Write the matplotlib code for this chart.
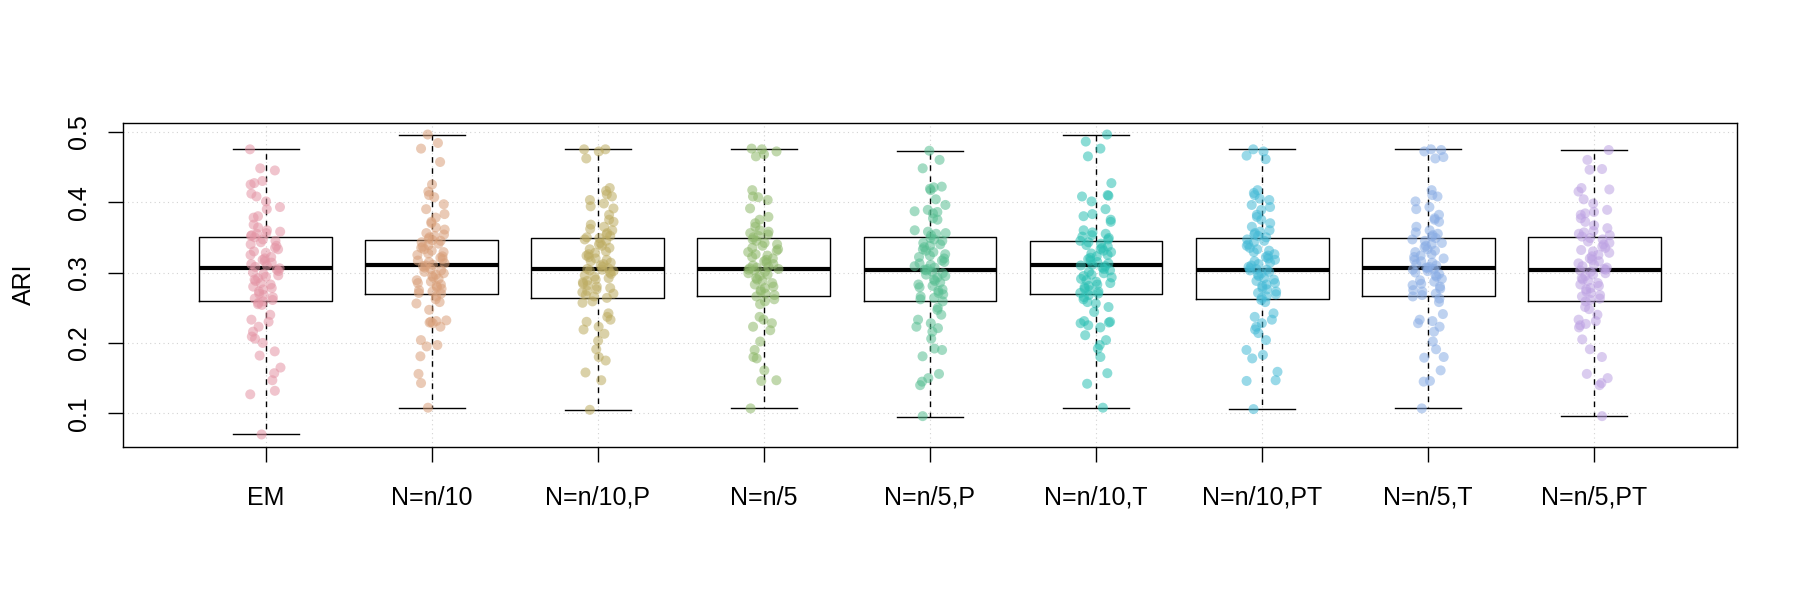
import numpy as np
import matplotlib
matplotlib.use("Agg")
import matplotlib.pyplot as plt

plt.rcParams['font.family'] = ['Liberation Sans', 'DejaVu Sans']

# group labels
labels = ['EM', 'N=n/10', 'N=n/10,P', 'N=n/5', 'N=n/5,P',
          'N=n/10,T', 'N=n/10,PT', 'N=n/5,T', 'N=n/5,PT']

# point colours (drawn with alpha)
colors = ['#E495A5', '#D9A07A', '#BDAC62', '#8FB86B', '#58BE92',
          '#2CC0B4', '#45BAD6', '#8AADE5', '#BDA2E3']

# box statistics
whislo = [0.070, 0.108, 0.105, 0.107, 0.095, 0.108, 0.106, 0.107, 0.096]
q1 = [0.260, 0.270, 0.264, 0.266, 0.260, 0.270, 0.263, 0.266, 0.260]
med = [0.307, 0.310, 0.305, 0.305, 0.304, 0.310, 0.304, 0.306, 0.304]
q3 = [0.351, 0.346, 0.349, 0.349, 0.351, 0.345, 0.349, 0.349, 0.351]
whishi = [0.475, 0.496, 0.475, 0.475, 0.473, 0.496, 0.475, 0.475, 0.474]

# ARI values per method
ari_em = [0.475, 0.448, 0.445, 0.430, 0.427, 0.425, 0.412, 0.408, 0.401, 0.393, 0.390,
          0.380, 0.378, 0.368, 0.364, 0.360, 0.358, 0.356, 0.355, 0.353, 0.352, 0.350,
          0.347, 0.345, 0.343, 0.340, 0.338, 0.335, 0.333, 0.330, 0.328, 0.325, 0.322,
          0.320, 0.318, 0.316, 0.314, 0.312, 0.310, 0.308, 0.306, 0.304, 0.302, 0.300,
          0.298, 0.296, 0.294, 0.292, 0.290, 0.288, 0.285, 0.283, 0.280, 0.278, 0.276,
          0.273, 0.270, 0.268, 0.265, 0.263, 0.261, 0.259, 0.257, 0.255,
          0.254, 0.240, 0.233, 0.230, 0.223, 0.216, 0.209, 0.206, 0.200, 0.188, 0.182,
          0.165, 0.157, 0.147, 0.132, 0.127, 0.070]
ari_n10 = [0.496, 0.484, 0.476, 0.457, 0.425, 0.415, 0.410, 0.407, 0.397, 0.390, 0.383,
           0.378, 0.372, 0.370, 0.364, 0.361, 0.356, 0.354, 0.352, 0.350, 0.348, 0.346,
           0.345, 0.343, 0.341, 0.339, 0.337, 0.335, 0.333, 0.331, 0.329, 0.327, 0.325,
           0.323, 0.321, 0.319, 0.317, 0.315, 0.313, 0.311, 0.310, 0.309, 0.307, 0.305,
           0.303, 0.301, 0.299, 0.297, 0.295, 0.293, 0.291, 0.289, 0.287, 0.285, 0.283,
           0.281, 0.279, 0.277, 0.275, 0.273, 0.271, 0.270,
           0.266, 0.262, 0.258, 0.256, 0.247, 0.232, 0.231, 0.230, 0.229, 0.228, 0.223,
           0.204, 0.197, 0.195, 0.181, 0.156, 0.143, 0.108]
ari_n10p = [0.475, 0.475, 0.472, 0.462, 0.420, 0.416, 0.411, 0.408, 0.403, 0.398, 0.394,
            0.391, 0.382, 0.375, 0.372, 0.368, 0.365, 0.362, 0.360, 0.356, 0.354, 0.352,
            0.350, 0.349, 0.347,
            0.345, 0.342, 0.340, 0.338, 0.335, 0.333, 0.330, 0.328, 0.326, 0.324, 0.322,
            0.320, 0.318, 0.316, 0.314, 0.312, 0.310, 0.308, 0.306, 0.305, 0.304, 0.303,
            0.302, 0.300, 0.298, 0.296, 0.294, 0.292, 0.290, 0.288, 0.286, 0.284, 0.282,
            0.280, 0.278, 0.276, 0.274, 0.272, 0.270, 0.268, 0.266, 0.264,
            0.259, 0.257, 0.242, 0.237, 0.233, 0.230, 0.223, 0.219, 0.213, 0.203, 0.191,
            0.180, 0.175, 0.158, 0.147, 0.105]
ari_n5 = [0.476, 0.475, 0.472, 0.468, 0.465, 0.417, 0.408, 0.407, 0.403, 0.391, 0.379,
          0.375, 0.370, 0.365, 0.360, 0.358, 0.356, 0.354, 0.352, 0.350,
          0.347, 0.345, 0.342, 0.340, 0.338, 0.335, 0.333, 0.331, 0.329, 0.326, 0.324,
          0.322, 0.320, 0.318, 0.316, 0.314, 0.312, 0.310, 0.308, 0.307, 0.306, 0.305,
          0.304, 0.303, 0.301, 0.299, 0.297, 0.295, 0.292, 0.290, 0.288, 0.285, 0.283,
          0.280, 0.278, 0.275, 0.273, 0.270, 0.268, 0.266,
          0.262, 0.259, 0.255, 0.237, 0.233, 0.228, 0.223, 0.218, 0.202, 0.190, 0.180,
          0.178, 0.161, 0.147, 0.146, 0.107]
ari_n5p = [0.473, 0.460, 0.448, 0.422, 0.421, 0.419, 0.417, 0.404, 0.396, 0.389, 0.387,
           0.386, 0.384, 0.377, 0.375, 0.360, 0.358, 0.356, 0.355, 0.353,
           0.349, 0.347, 0.345, 0.342, 0.340, 0.338, 0.336, 0.333, 0.331, 0.329, 0.326,
           0.324, 0.322, 0.320, 0.317, 0.315, 0.313, 0.311, 0.309, 0.307, 0.305, 0.304,
           0.303, 0.301, 0.299, 0.297, 0.295, 0.293, 0.290, 0.288, 0.286, 0.283, 0.281,
           0.279, 0.276, 0.274, 0.271, 0.269, 0.266, 0.264, 0.262,
           0.259, 0.250, 0.247, 0.240, 0.233, 0.228, 0.223, 0.221, 0.216, 0.206, 0.192,
           0.190, 0.181, 0.156, 0.150, 0.145, 0.140, 0.096]
ari_n10t = [0.496, 0.486, 0.476, 0.465, 0.427, 0.410, 0.409, 0.408, 0.401, 0.390, 0.383,
            0.380, 0.375, 0.372, 0.360, 0.357, 0.355, 0.353, 0.351, 0.349, 0.347,
            0.345, 0.343, 0.341, 0.339, 0.337, 0.335, 0.333, 0.331, 0.329, 0.327, 0.325,
            0.323, 0.321, 0.319, 0.317, 0.315, 0.313, 0.311, 0.310, 0.309, 0.307, 0.305,
            0.303, 0.301, 0.299, 0.297, 0.295, 0.293, 0.291, 0.289, 0.287, 0.285, 0.283,
            0.281, 0.279, 0.277, 0.275, 0.273, 0.271, 0.270,
            0.268, 0.265, 0.262, 0.258, 0.256, 0.251, 0.244, 0.231, 0.230, 0.229, 0.228,
            0.225, 0.222, 0.211, 0.204, 0.197, 0.192, 0.180, 0.157, 0.142, 0.108]
ari_n10pt = [0.475, 0.472, 0.466, 0.461, 0.417, 0.413, 0.410, 0.405, 0.403, 0.396, 0.393,
             0.389, 0.382, 0.379, 0.375, 0.370, 0.365, 0.360, 0.358, 0.356, 0.354, 0.352,
             0.350,
             0.347, 0.345, 0.343, 0.340, 0.338, 0.335, 0.333, 0.331, 0.329, 0.326, 0.324,
             0.322, 0.320, 0.318, 0.316, 0.314, 0.312, 0.310, 0.308, 0.306, 0.305, 0.304,
             0.303, 0.301, 0.299, 0.297, 0.295, 0.292, 0.290, 0.288, 0.285, 0.283, 0.281,
             0.278, 0.276, 0.273, 0.271, 0.269, 0.266, 0.264,
             0.261, 0.258, 0.242, 0.237, 0.233, 0.228, 0.223, 0.219, 0.214, 0.204, 0.190,
             0.183, 0.178, 0.159, 0.147, 0.146, 0.106]
ari_n5t = [0.475, 0.474, 0.472, 0.464, 0.462, 0.417, 0.410, 0.408, 0.401, 0.393, 0.390,
           0.382, 0.377, 0.375, 0.372, 0.365, 0.360, 0.357, 0.355, 0.353, 0.351, 0.349,
           0.347, 0.345, 0.342, 0.340, 0.338, 0.336, 0.333, 0.331, 0.329, 0.326, 0.324,
           0.322, 0.320, 0.318, 0.316, 0.314, 0.312, 0.310, 0.308, 0.307, 0.306, 0.305,
           0.304, 0.302, 0.300, 0.298, 0.296, 0.294, 0.291, 0.289, 0.287, 0.284, 0.282,
           0.280, 0.277, 0.275, 0.273, 0.270, 0.268, 0.266,
           0.263, 0.258, 0.241, 0.233, 0.231, 0.228, 0.223, 0.216, 0.202, 0.191, 0.180,
           0.179, 0.161, 0.146, 0.145, 0.107]
ari_n5pt = [0.474, 0.460, 0.447, 0.446, 0.420, 0.418, 0.415, 0.404, 0.398, 0.389, 0.386,
            0.384, 0.382, 0.377, 0.372, 0.367, 0.363, 0.359, 0.357, 0.355, 0.353, 0.351,
            0.349, 0.347, 0.344, 0.342, 0.340, 0.337, 0.335, 0.332, 0.330, 0.328, 0.325,
            0.323, 0.320, 0.318, 0.316, 0.313, 0.311, 0.309, 0.307, 0.305, 0.304, 0.303,
            0.301, 0.299, 0.297, 0.295, 0.292, 0.290, 0.288, 0.285, 0.283, 0.281, 0.278,
            0.276, 0.273, 0.271, 0.268, 0.266, 0.263, 0.261,
            0.259, 0.251, 0.248, 0.240, 0.233, 0.231, 0.227, 0.225, 0.222, 0.205, 0.191,
            0.180, 0.156, 0.150, 0.143, 0.140, 0.096]

groups = [ari_em, ari_n10, ari_n10p, ari_n5, ari_n5p,
          ari_n10t, ari_n10pt, ari_n5t, ari_n5pt]

fig = plt.figure(figsize=(18, 6), dpi=100)
ax = fig.add_axes([0.0683, 0.2555, 0.8967, 0.54])

pos = np.arange(1, len(labels) + 1)

# grid (R's grid(): light gray dotted)
for y in [0.1, 0.2, 0.3, 0.4, 0.5]:
    ax.axhline(y, color='lightgray', linestyle=(0, (1, 3)), linewidth=0.8, zorder=0)
for x in pos:
    ax.axvline(x, color='lightgray', linestyle=(0, (1, 3)), linewidth=0.8, zorder=0)

stats = []
for i in range(len(labels)):
    stats.append({'whislo': whislo[i], 'q1': q1[i], 'med': med[i],
                  'q3': q3[i], 'whishi': whishi[i], 'fliers': []})

ax.bxp(stats, positions=pos, widths=0.8, showfliers=False,
       boxprops=dict(color='black', linewidth=1.0),
       medianprops=dict(color='black', linewidth=3.0, solid_capstyle='butt'),
       whiskerprops=dict(color='black', linewidth=1.0, linestyle=(0, (4, 4))),
       capprops=dict(color='black', linewidth=1.0),
       capwidths=0.4)

# jittered points (deterministic quasi-random offsets)
for i, vals in enumerate(groups):
    k = np.arange(len(vals))
    u = (k * 0.7548777 + k * k * 0.5698403 + 0.37 * i) % 1.0
    offs = (u * 2 - 1) * 0.095
    ax.scatter(pos[i] + offs, vals, s=52, color=colors[i], alpha=0.55,
               edgecolors='none', zorder=3)

ax.set_xlim(0.14, 9.86)
ax.set_ylim(0.0526, 0.5128)
ax.set_xticks(pos)
ax.set_xticklabels(labels)
ax.set_yticks([0.1, 0.2, 0.3, 0.4, 0.5])
ax.set_yticklabels(['0.1', '0.2', '0.3', '0.4', '0.5'], rotation=90, va='center')
ax.tick_params(axis='both', length=11, width=1.0, labelsize=18)
ax.tick_params(axis='x', pad=17)
ax.tick_params(axis='y', pad=12)
ax.set_ylabel('ARI', fontsize=18, labelpad=22)
for sp in ax.spines.values():
    sp.set_linewidth(1.0)

fig.savefig('out.png', dpi=100)
